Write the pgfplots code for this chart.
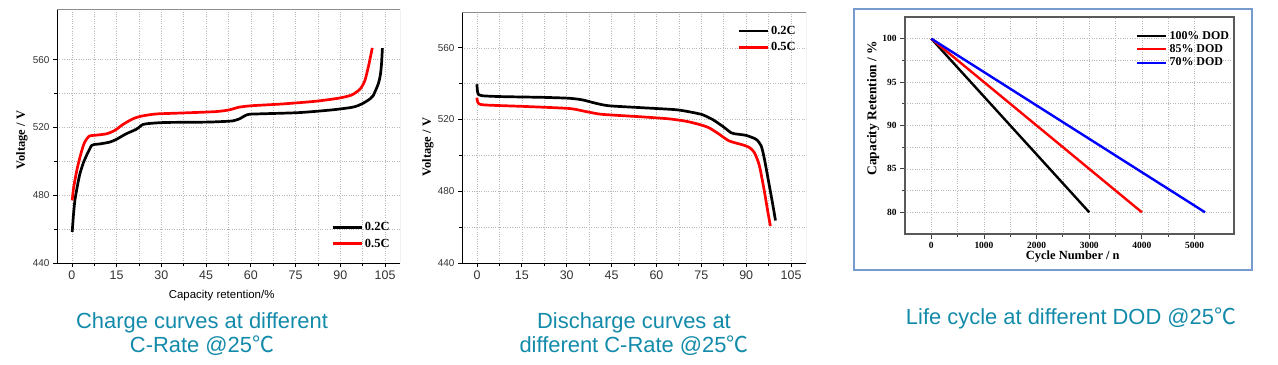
\documentclass[border=0pt]{standalone}
\usepackage{fontspec}
\setmainfont{Liberation Serif}
\newfontfamily\sansf{Liberation Sans}
\newfontfamily\cjk{Noto Sans CJK SC}
\usepackage{pgfplots}
\pgfplotsset{compat=1.18}
\definecolor{capteal}{RGB}{18,138,170}
\definecolor{framebl}{RGB}{120,155,205}
\pgfplotsset{
  cr/.style={scale only axis, anchor=south west,
    xmin=-5, xmax=110, ymin=440,
    xtick={0,15,...,105}, ytick={440,480,520,560},
    minor x tick num=1, minor y tick num=1,
    grid=both, grid style={dotted, black!28, line width=0.6bp},
    tick align=outside, tick pos=left,
    major tick length=4bp, minor tick length=3bp,
    every tick/.style={black, line width=0.8bp},
    axis line style={black, line width=0.9bp},
    axis x line*=bottom, axis y line*=left,
    /pgf/number format/assume math mode=true,
    xticklabel style={font=\sansf\fontsize{12.5}{13}\selectfont, text=black!80},
    yticklabel style={font=\sansf\fontsize{10}{10}\selectfont, text=black!80},
    ylabel style={font=\bfseries\fontsize{12.5}{13}\selectfont, rotate=0},
    legend cell align=left,
    legend style={draw=none, fill=none, inner sep=0pt, row sep=2.5bp,
      font=\bfseries\fontsize{12.5}{13}\selectfont},
    legend image code/.code={\draw[##1] (0bp,0bp) -- (29bp,0bp);},
  },
  crline/.style={line width=2.7bp, smooth, tension=0.4, line join=round},
}
\begin{document}
\begin{tikzpicture}
\path (0bp,0bp) rectangle (1278bp,365bp);

% ---------- Panel 1: charge ----------
\begin{axis}[cr, at={(57bp,102bp)}, width=343bp, height=254bp, ymax=590,
  ylabel={Voltage / V},
  ylabel style={at={(axis description cs:-0.102,0.484)}, anchor=center},
  xlabel={Capacity retention/\%},
  xlabel style={at={(axis description cs:0.48,-0.13)}, anchor=center,
    font=\sansf\fontsize{11.5}{12}\selectfont},
  legend style={at={(axis description cs:0.799,0.168)}, anchor=north west}]
\addplot[black, crline] coordinates {
(0.1,458.4) (0.5,468) (1,477) (2,487) (2.7,492.8) (3.8,499) (4.9,503.5) (6,507.5)
(6.6,509.4) (7.5,510) (9.3,510.3) (12.7,511.4) (14.9,513) (18.2,516.3) (21.6,519)
(23.8,521.8) (26,522.4) (28.2,522.7) (31.6,523) (44.9,523.2) (50,523.5) (53.8,523.9)
(56,525) (58.8,527.6) (61.6,528) (76,528.8) (87.1,530.4) (93.8,531.9) (96,533)
(98.2,534.9) (100,537) (101,538.8) (102.7,545.7) (103.4,551) (103.8,557.5) (104.1,566.9)};
\addlegendentry{0.2C}
\addplot[red, crline] coordinates {
(0.1,477) (0.5,483.5) (1,488.8) (1.8,496) (2.7,502.5) (3.5,507.5) (4.3,511.4)
(5.8,514.9) (8.2,515.5) (11.6,516.3) (14.3,518.2) (17.1,521.8) (20.4,525.1)
(23.2,526.7) (28.2,528) (37.1,528.6) (48.2,529.4) (52.7,530.4) (56,532) (60.4,532.9)
(70.4,533.9) (81.6,535.5) (89.3,537.3) (93.8,539.2) (96.6,542.7) (98.2,547.6)
(99.6,557.5) (100.7,567)};
\addlegendentry{0.5C}
\draw[black!45, line width=0.9bp] (rel axis cs:0,1) -- (rel axis cs:1,1) -- (rel axis cs:1,0);
\end{axis}

% ---------- Panel 2: discharge ----------
\begin{axis}[cr, at={(462bp,102bp)}, width=344bp, height=251bp, ymax=580,
  ylabel={Voltage / V},
  ylabel style={at={(axis description cs:-0.099,0.462)}, anchor=center},
  legend style={at={(axis description cs:0.80,0.952)}, anchor=north west}]
\addplot[black, crline] coordinates {
(0,539.7) (0.3,534.6) (1.7,533.3) (8.4,532.8) (21.8,532.4) (30.7,531.9) (35.2,531)
(39.7,529.1) (44.1,527.7) (55.3,526.6) (66.5,525.5) (72,524) (75.4,522.7) (78.8,520)
(82.1,516.3) (84.9,512.7) (86,512.1) (89.9,511.2) (93.3,509) (95,505.4) (96.1,498)
(97.7,483.5) (98.9,472.5) (99.8,463.7)};
\addlegendentry{0.2C}
\addplot[red, crline] coordinates {
(0,532.2) (0.3,529.5) (2.2,528.2) (16.2,527.3) (30.7,526.2) (35.2,524.9) (40.8,523.1)
(46.4,522.4) (55.3,521.5) (64.2,520.4) (69.8,519.1) (74.3,517.3) (77.6,515.4)
(81,511.8) (84.3,508.1) (88.8,505.9) (91,504.5) (92.7,501.7) (94.4,494.4) (96.1,479.8)
(97.2,468.9) (98.1,460.6)};
\addlegendentry{0.5C}
\draw[black!45, line width=0.9bp] (rel axis cs:0,1) -- (rel axis cs:1,1) -- (rel axis cs:1,0);
\end{axis}

% ---------- Panel 3: life cycle ----------
\draw[framebl, line width=1.6bp] (854bp,95bp) rectangle (1252bp,356bp);
\begin{axis}[scale only axis, anchor=south west, at={(905bp,131bp)},
  width=329bp, height=217bp,
  xmin=-500, xmax=5750, ymin=77.5, ymax=102.5,
  xtick={0,1000,...,5000}, ytick={80,85,...,100},
  minor x tick num=1, minor y tick num=1,
  grid=both, grid style={dotted, black!28, line width=0.6bp},
  tick align=outside, tick pos=left,
  major tick length=5bp, minor tick length=3bp,
  every tick/.style={black!75, line width=0.9bp},
  axis line style={black!65, line width=1.3bp},
  /pgf/number format/assume math mode=true,
  /pgf/number format/set thousands separator={},
  ticklabel style={font=\bfseries\fontsize{9.5}{9.5}\selectfont},
  xlabel={Cycle Number / n}, ylabel={Capacity Retention / \%},
  xlabel style={at={(axis description cs:0.51,-0.106)}, anchor=center,
    font=\bfseries\fontsize{12.5}{12}\selectfont},
  ylabel style={at={(axis description cs:-0.097,0.58)}, anchor=center,
    font=\bfseries\fontsize{13.5}{12}\selectfont},
  legend cell align=left,
  legend style={draw=none, fill=none, inner sep=0pt, row sep=0bp,
    at={(axis description cs:0.702,0.945)}, anchor=north west,
    font=\bfseries\fontsize{12}{12}\selectfont},
  legend image code/.code={\draw[#1] (0bp,0bp) -- (29bp,0bp);}]
\addplot[black, line width=2.4bp] coordinates {(0,100) (3000,80)};
\addlegendentry{100\% DOD}
\addplot[red, line width=2.4bp] coordinates {(0,100) (4000,80)};
\addlegendentry{85\% DOD}
\addplot[blue, line width=2.4bp] coordinates {(0,100) (5200,80)};
\addlegendentry{70\% DOD}
\end{axis}

% ---------- Captions ----------
\node[align=center, text=capteal, font=\sansf\fontsize{22}{24.5}\selectfont]
  at (202bp,31bp) {Charge curves at different\\C-Rate @25{\cjk ℃}};
\node[align=center, text=capteal, font=\sansf\fontsize{22}{24.5}\selectfont]
  at (634bp,31bp) {Discharge curves at\\different C-Rate @25{\cjk ℃}};
\node[align=center, text=capteal, font=\sansf\fontsize{22}{24.5}\selectfont]
  at (1071bp,47bp) {Life cycle at different DOD @25{\cjk ℃}};
\end{tikzpicture}
\end{document}
